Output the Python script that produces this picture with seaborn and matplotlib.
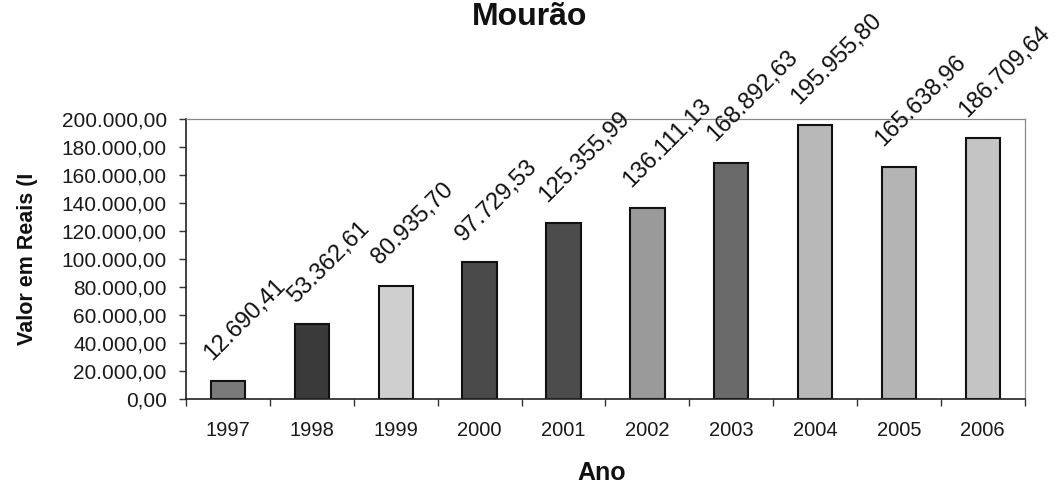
import matplotlib
matplotlib.use("Agg")
import matplotlib.pyplot as plt
import matplotlib.ticker as mticker
import seaborn as sns
import pandas as pd
import numpy as np

anos = ["1997", "1998", "1999", "2000", "2001", "2002", "2003", "2004", "2005", "2006"]
valores = [12690.41, 53362.61, 80935.70, 97729.53, 125355.99, 136111.13,
           168892.63, 195955.80, 165638.96, 186709.64]
rotulos = ["12.690,41", "53.362,61", "80.935,70", "97.729,53", "125.355,99",
           "136.111,13", "168.892,63", "195.955,80", "165.638,96", "186.709,64"]
cores = ["#7a7a7a", "#3a3a3a", "#cfcfcf", "#4a4a4a", "#4c4c4c",
         "#9a9a9a", "#6a6a6a", "#b8b8b8", "#b4b4b4", "#c4c4c4"]

df = pd.DataFrame({"Ano": anos, "Valor": valores})

sns.set_theme(style="white")
plt.rcParams["font.family"] = ["Liberation Sans", "DejaVu Sans"]

fig = plt.figure(figsize=(10.64, 4.96), dpi=100)
ax = fig.add_axes([0.175, 0.196, 0.788, 0.564])

sns.barplot(data=df, x="Ano", y="Valor", hue="Ano", palette=cores, legend=False,
            width=0.41, edgecolor="#111111", linewidth=1.5, saturation=1, ax=ax)

ax.set_ylim(0, 200000)
ax.set_xlim(-0.5, len(anos) - 0.5)
ax.yaxis.set_major_locator(mticker.MultipleLocator(20000))
ax.yaxis.set_major_formatter(mticker.FuncFormatter(
    lambda v, p: f"{v:,.2f}".replace(",", "X").replace(".", ",").replace("X", ".")))
ax.tick_params(axis="y", labelsize=15, length=5, width=1, direction="out",
               left=True, color="#333333", pad=9, labelcolor="#1a1a1a")
ax.tick_params(axis="x", which="major", labelsize=14.5, length=0, pad=16, labelcolor="#1a1a1a")
ax.set_xticks(np.arange(-0.5, len(anos), 1), minor=True)
ax.tick_params(axis="x", which="minor", length=5, width=1, bottom=True, color="#333333")

for s in ["top", "right"]:
    ax.spines[s].set_color("#888888")
    ax.spines[s].set_linewidth(0.9)
for s in ["left", "bottom"]:
    ax.spines[s].set_color("#222222")
    ax.spines[s].set_linewidth(1.2)

for i, (v, t) in enumerate(zip(valores, rotulos)):
    ax.annotate(t, xy=(i, v), xytext=(-9, 12), textcoords="offset points",
                rotation=45, rotation_mode="anchor", ha="left", va="bottom",
                fontsize=17, color="#111111", annotation_clip=False)

ax.set_xlabel("Ano", fontsize=18, fontweight="bold", color="#111111", va="center")
ax.xaxis.set_label_coords(0.496, -0.264)
ax.set_ylabel("Valor em Reais (I", fontsize=15.5, fontweight="bold", color="#111111", va="center")
ax.yaxis.set_label_coords(-0.189, 0.5)
fig.text(0.498, 0.965, "Mourão", ha="center", va="center", fontsize=23,
         fontweight="bold", color="#111111")

fig.savefig("out.png", dpi=100)
